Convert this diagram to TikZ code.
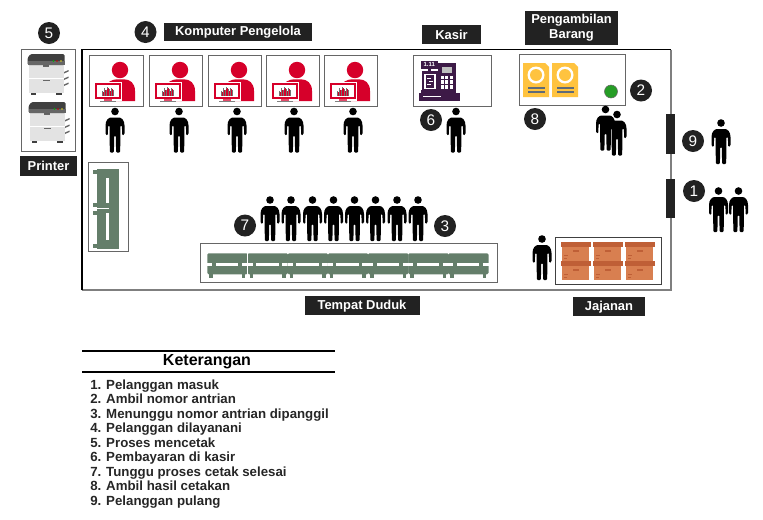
\documentclass[tikz,border=0pt]{standalone}
\usepackage{fontspec}
\setmainfont{Liberation Sans}
\definecolor{darkbox}{HTML}{222222}
\definecolor{framegray}{HTML}{7F7F7F}
\definecolor{userred}{HTML}{D6002A}
\definecolor{benchgreen}{HTML}{647E6A}
\definecolor{docyellow}{HTML}{FFC33F}
\definecolor{docline}{HTML}{5F6B78}
\definecolor{tillpurple}{HTML}{3D1A47}
\definecolor{boxlid}{HTML}{BF5F36}
\definecolor{boxbody}{HTML}{D87F50}
\tikzset{
  badge/.style={circle,fill=darkbox,text=white,minimum size=16.5pt,inner sep=0pt,font=\fontsize{11.5}{12}\selectfont},
  labelbox/.style={fill=darkbox,text=white,inner sep=0pt,align=center,font=\fontsize{9.7}{11.5}\selectfont\bfseries},
  framebox/.style={draw=black!60,line width=0.6pt,fill=white},
  legendline/.style={anchor=base west,inner sep=0pt,font=\fontsize{9.95}{11}\selectfont\bfseries,text=black!85},
  person/.pic={
    \fill[black] (0,-41) circle [radius=3.8];
    \fill[black,rounded corners=0.8pt] (-9.5,-18) -- (-9.5,-26) .. controls (-9.5,-32) and (-6.5,-35) .. (-3,-35) -- (3,-35) .. controls (6.5,-35) and (9.5,-32) .. (9.5,-26) -- (9.5,-18) -- (7.3,-17) -- (6.8,-27) -- (5.4,-27) -- (5.2,0) -- (1.1,0) -- (0.8,-17) -- (-0.8,-17) -- (-1.1,0) -- (-5.2,0) -- (-5.4,-27) -- (-6.8,-27) -- (-7.3,-17) -- cycle;
  },
  operator/.pic={
    \fill[userred] (31,15) circle [radius=8.2];
    \fill[userred] (17,46) -- (17,34) .. controls (17,27) and (23,24.3) .. (28,24.3) -- (35,24.3) .. controls (41,24.3) and (46,28) .. (46,36) -- (46,46) -- cycle;
    \fill[white] (4.7,26.5) rectangle (33,46);
    \fill[userred] (5.7,27.7) rectangle (32,44);
    \fill[white] (8,30) rectangle (29.7,41.7);
    \fill[userred!70] (15,44) rectangle (23,46);
    \fill[black!50] (11,46) rectangle (27,46.8);
    \foreach \bx/\by in {13/36,14.8/33,16.6/35,18.4/32,20.2/34,22/33,23.8/35}
      \fill[black!55] (\bx,\by) rectangle +(0.9,41.2-\by);
    \foreach \bx/\by in {14/37,15.8/35,17.6/34,19.4/33,21.2/36,23/34}
      \fill[userred] (\bx,\by) rectangle +(0.9,41.2-\by);
  },
  copier/.pic={
    \fill[black!11] (1.5,11) rectangle (36,39);
    \fill[white] (1.5,24) rectangle (36,24.7);
    \fill[black!60] (15,25.5) rectangle (22.5,27);
    \fill[black!60] (15,11) rectangle (21,12.5);
    \fill[black!75] (3,39) rectangle (8.5,40.5);
    \fill[black!75] (28.5,39) rectangle (34,40.5);
    \fill[black!75,rounded corners=1pt] (0,11) -- (0,4) -- (3,0) -- (37,0) -- (37,11) -- cycle;
    \fill[black!60] (0,7) rectangle (37,11);
    \fill[green!70!black] (26,7) circle [radius=0.9];
    \fill[red!80!black] (29.5,7) circle [radius=0.9];
    \fill[yellow!85!black] (33.5,7) circle [radius=0.9];
    \foreach \ty in {18,24.5,30.5}
      \fill[black!60] (36.5,\ty) -- (41,\ty-2) -- (41,\ty-0.5) -- (36.5,\ty+1.5) -- cycle;
  },
  receipt/.pic={
    \fill[docyellow] (0,0) -- (22,0) -- (26,4) -- (26,34) -- (0,34) -- cycle;
    \fill[white] (13,12) circle [radius=8.5];
    \fill[docyellow] (13,12) circle [radius=6];
    \fill[docline] (4.5,24) rectangle (21.5,26);
    \fill[docline] (4.5,28) rectangle (21.5,30);
  },
  carton/.pic={
    \fill[boxbody] (1.5,4) rectangle (28.5,19);
    \fill[boxlid] (0,0) rectangle (30,5);
    \fill[boxlid] (12,8) rectangle (18,10);
    \fill[boxlid] (3,13) rectangle (7,14);
    \fill[boxlid] (3,16) rectangle (6,17);
  },
  seat/.pic={
    \fill[benchgreen,rounded corners=1pt] (0,0) rectangle (40.4,21);
    \fill[white] (8.5,10) rectangle (31,12.7);
    \fill[white] (0,10) rectangle (5,12.7);
    \fill[white] (34.5,10) rectangle (40.4,12.7);
    \fill[benchgreen] (2,21) rectangle (5.5,25);
    \fill[benchgreen] (34.5,21) rectangle (38,25);
  },
}
\begin{document}
\begin{tikzpicture}[x=0.75pt,y=-0.75pt]
  \useasboundingbox (0,0) rectangle (763,519);
  \draw[framegray,line width=0.8pt] (671,49.5) -- (671,290) -- (82,290);
  \draw[black,line width=0.8pt] (82,290) -- (82,49.5) -- (671,49.5);
  \fill[darkbox] (666,114) rectangle (675,154);
  \fill[darkbox] (666,179) rectangle (675,218);

  \draw[framebox] (21,49) rectangle (75,151);
  \pic at (27.5,54) {copier};
  \pic at (28.5,102) {copier};

  \foreach \fx/\fw in {89/54,149/53,208/53,266/53,324/53} {
    \draw[framebox] (\fx,55) rectangle +(\fw,51);
    \pic at (\fx,55) {operator};
  }
  \foreach \px in {115,179,237,294,353}
    \pic at (\px,152.5) {person};

  \draw[framebox] (413,55) rectangle (491,106);
  \fill[tillpurple] (419.3,93.3) rectangle (460,100.5);
  \fill[tillpurple] (421,90) rectangle (456,93.5);
  \fill[white] (423,96.3) rectangle (441,97.1);
  \fill[tillpurple] (438,63.3) rectangle (456,91);
  \fill[tillpurple] (422,71) rectangle (438,91);
  \fill[tillpurple] (421,60.7) rectangle (437.7,68.5);
  \fill[tillpurple] (428,68) rectangle (431,72);
  \node[inner sep=0pt,text=white,font=\fontsize{4.5}{5}\selectfont\bfseries] (tillTag) at (429.3,64.7) {1.11};
  \fill[white] (424,73.5) rectangle (435.5,89);
  \fill[tillpurple] (425.5,75) rectangle (434,87.5);
  \fill[white] (427,77.5) rectangle (431,78.5);
  \fill[white] (429,81) rectangle (432.5,82);
  \fill[white] (427,84) rectangle (431,85);
  \fill[black!25] (441.7,67) rectangle (451.7,72.7);
  \foreach \kx in {0,1,2}
    \foreach \ky in {0,1,2}
      \fill[white] (441+\kx*4.3,75.5+\ky*4.9) rectangle +(3,3.6);

  \draw[framebox] (519,54) rectangle (625,105);
  \pic at (523,63) {receipt};
  \pic at (552,63) {receipt};
  \draw[black!60,fill=green!55!black!85,line width=0.4pt] (611,91.5) circle [radius=6.5];

  \pic at (456,152.5) {person};
  \pic at (605.5,150.5) {person};
  \pic at (617,155.5) {person};
  \pic at (721,164) {person};
  \pic at (718.5,232) {person};
  \pic at (738.5,232) {person};
  \pic at (542,280) {person};
  \foreach \px in {270,291,312.5,333.5,354.5,375.5,397,418}
    \pic at (\px,241) {person};

  \draw[framebox] (88.5,162.5) rectangle (128,251);
  \fill[benchgreen] (96.5,169) rectangle (119,249);
  \fill[white] (105.7,178) rectangle (108.7,203);
  \fill[white] (105.7,213) rectangle (108.7,240);
  \fill[white] (96.5,207.5) rectangle (108.7,209);
  \fill[benchgreen] (93,170) rectangle (96.5,174);
  \fill[benchgreen] (93,203) rectangle (96.5,207);
  \fill[benchgreen] (93,211) rectangle (96.5,215);
  \fill[benchgreen] (93,244) rectangle (96.5,248);

  \draw[framebox] (200,243) rectangle (497,282);
  \foreach \sx in {207.3,247.5,287.7,327.9,368.1,408.3,448.1}
    \pic at (\sx,253.3) {seat};
  \fill[white] (246.7,253) rectangle (247.4,278);

  \draw[framebox,draw=black!75] (555,237) rectangle (661,284.5);
  \foreach \cx in {560.5,592.7,624.7} {
    \pic at (\cx,242) {carton};
    \pic at (\cx,261) {carton};
  }

  \node[badge] (num5) at (49,33) {5};
  \node[badge] (num4) at (145.5,32) {4};
  \node[badge] (num2) at (641,90.5) {2};
  \node[badge] (num8) at (535,119) {8};
  \node[badge] (num6) at (431,120) {6};
  \node[badge] (num9) at (693,141) {9};
  \node[badge] (num1) at (694,191) {1};
  \node[badge] (num7) at (245,225.5) {7};
  \node[badge] (num3) at (445,226) {3};

  \node[labelbox,minimum width=148*.75,minimum height=18.5*.75,text depth=2pt] (komputer) at (238,32.2) {Komputer Pengelola};
  \node[labelbox,minimum width=59*.75,minimum height=19*.75] (kasir) at (451.5,34.5) {Kasir};
  \node[labelbox,minimum width=93*.75,minimum height=34*.75] (ambil) at (571.5,27.5) {Pengambilan\\Barang};
  \node[labelbox,minimum width=57*.75,minimum height=20*.75] (printer) at (48.5,166) {Printer};
  \node[labelbox,minimum width=115*.75,minimum height=19*.75,text depth=0.5pt] (duduk) at (362,305.5) {Tempat Duduk};
  \node[labelbox,minimum width=72*.75,minimum height=19*.75,text depth=0.5pt] (jajanan) at (609,306.5) {Jajanan};

  \draw[black,line width=1.5pt] (82,351) -- (335,351);
  \draw[black,line width=1.5pt] (82,372) -- (335,372);
  \node[inner sep=0pt,font=\fontsize{12}{14}\selectfont\bfseries] (keterangan) at (207,361.5) {Keterangan};
  \foreach \ln/\txt [count=\i from 0] in {1/Pelanggan masuk,2/Ambil nomor antrian,3/Menunggu nomor antrian dipanggil,4/Pelanggan dilayanani,5/Proses mencetak,6/Pembayaran di kasir,7/Tunggu proses cetak selesai,8/Ambil hasil cetakan,9/Pelanggan pulang}
    \node[legendline] (item\ln) at (90,389.2+\i*14.5) {\ln. \txt};
\end{tikzpicture}
\end{document}
